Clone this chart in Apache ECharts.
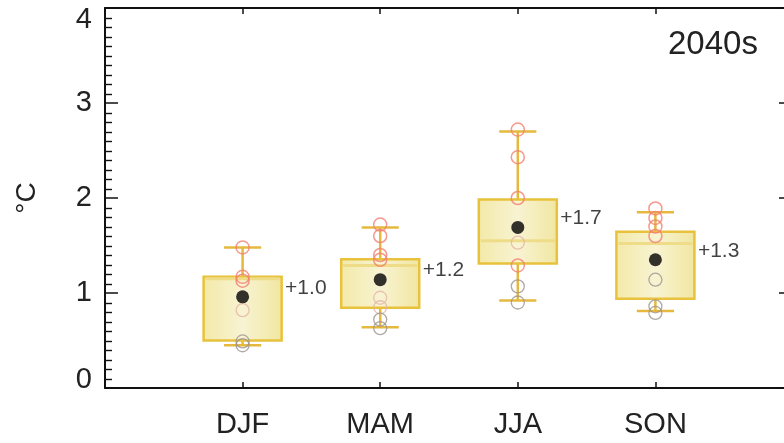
<!DOCTYPE html>
<html>
<head>
<meta charset="utf-8">
<script src="https://cdn.jsdelivr.net/npm/echarts@6/dist/echarts.min.js"></script>
<style>html,body{margin:0;padding:0;background:#fff;}#c{width:784px;height:443px;}</style>
</head>
<body>
<div id="c"></div>
<script>
const categories = ['DJF', 'MAM', 'JJA', 'SON'];
const whiskerLow = [0.45, 0.64, 0.92, 0.81];
const q1 = [0.50, 0.845, 1.31, 0.94];
const median = [1.15, 1.29, 1.55, 1.52];
const q3 = [1.17, 1.355, 1.985, 1.645];
const whiskerHigh = [1.48, 1.69, 2.70, 1.85];
const means = [0.96, 1.14, 1.69, 1.35];
const meanLabels = ['+1.0', '+1.2', '+1.7', '+1.3'];
const warmModels = [[1.48, 1.17, 1.13], [1.72, 1.60, 1.40, 1.35], [2.72, 2.43, 2.0, 1.29], [1.89, 1.79, 1.70, 1.60]];
const paleModels = [[0.82], [0.95, 0.85], [1.53], []];
const greyModels = [[0.49, 0.45], [0.72, 0.63], [1.07, 0.90], [1.14, 0.86, 0.79]];
const yTicks = [0, 1, 2, 3, 4];
const minorStep = 0.1;
const periodLabel = '2040s';

const FONT = 'Liberation Sans';
const boxData = categories.map((c, i) => [i + 1, whiskerLow[i], q1[i], median[i], q3[i], whiskerHigh[i]]);
function pts(groups) {
  const out = [];
  groups.forEach((g, i) => g.forEach(v => out.push([i + 1, v])));
  return out;
}
const meanData = means.map((m, i) => ({ value: [i + 1, m], label: { formatter: meanLabels[i] } }));
const minorTickValues = [];
for (let k = 1; k < Math.round((yTicks[yTicks.length - 1] - yTicks[0]) / minorStep); k++) {
  if (k % 10 !== 0) minorTickValues.push([1, +(yTicks[0] + k * minorStep).toFixed(2)]);
}

const chart = echarts.init(document.getElementById('c'));
chart.setOption({
  animation: false,
  backgroundColor: '#fff',
  grid: { left: 105, top: 8, width: 688, height: 380, containLabel: false, outerBoundsMode: 'none' },
  xAxis: [{
    type: 'value', position: 'bottom', min: 0, max: 5, interval: 1,
    axisLine: { onZero: false, lineStyle: { color: '#111', width: 2 } },
    axisTick: { inside: true, length: 6, lineStyle: { color: '#111', width: 1.5 } },
    splitLine: { show: false },
    axisLabel: {
      margin: 22, fontSize: 29, fontFamily: FONT, color: '#222',
      formatter: v => (v >= 1 && v <= categories.length && Number.isInteger(v)) ? categories[v - 1] : ''
    }
  }, {
    type: 'value', position: 'top', min: 0, max: 5, interval: 1,
    axisLine: { onZero: false, lineStyle: { color: '#111', width: 2 } },
    axisTick: { inside: true, length: 6, lineStyle: { color: '#111', width: 1.5 } },
    splitLine: { show: false },
    axisLabel: { show: false }
  }],
  yAxis: [{
    type: 'value', position: 'left', min: 0, max: 4, interval: 1,
    name: '°C', nameLocation: 'middle', nameRotate: 90, nameGap: 64,
    nameTextStyle: { fontSize: 28, fontFamily: FONT, color: '#222' },
    axisLine: { show: true, onZero: false, lineStyle: { color: '#111', width: 2 } },
    axisTick: { show: true, inside: true, length: 13, lineStyle: { color: '#111', width: 1.5 } },
    splitLine: { show: false },
    axisLabel: {
      margin: 13, fontSize: 29, fontFamily: FONT, color: '#222',
      formatter: v => v === yTicks[yTicks.length - 1] ? '{t|' + v + '}' : (v === yTicks[0] ? '{b|' + v + '}' : String(v)),
      rich: {
        t: { fontSize: 29, fontFamily: FONT, color: '#222', padding: [24, 0, 0, 0] },
        b: { fontSize: 29, fontFamily: FONT, color: '#222', padding: [0, 0, 16, 0] }
      }
    }
  }, {
    type: 'value', position: 'right', min: 0, max: 4, interval: 1,
    axisLine: { show: true, onZero: false, lineStyle: { color: '#111', width: 2 } },
    axisTick: { show: true, inside: true, length: 14, lineStyle: { color: '#111', width: 1.5 } },
    splitLine: { show: false },
    axisLabel: { show: false }
  }],
  series: [{
    type: 'custom',
    xAxisIndex: 0, yAxisIndex: 0,
    data: minorTickValues,
    z: 10, clip: false, silent: true,
    renderItem: function (params, api) {
      const v = api.value(1);
      const pl = api.coord([0, v]);
      const pr = api.coord([5, v]);
      const y = Math.round(pl[1]) + 0.5;
      return {
        type: 'group',
        children: [
          { type: 'line', shape: { x1: pl[0], y1: y, x2: pl[0] + 7, y2: y }, style: { stroke: '#111', lineWidth: 1.4 } },
          { type: 'line', shape: { x1: pr[0], y1: y, x2: pr[0] - 7, y2: y }, style: { stroke: '#111', lineWidth: 1.4 } }
        ]
      };
    }
  }, {
    type: 'custom',
    xAxisIndex: 0, yAxisIndex: 0,
    data: boxData,
    z: 2,
    renderItem: function (params, api) {
      const x = api.value(0);
      const unit = api.size([1, 0])[0];
      const bw = unit * 0.567, cw = unit * 0.27;
      const pLow = api.coord([x, api.value(1)]);
      const pQ1 = api.coord([x, api.value(2)]);
      const pMed = api.coord([x, api.value(3)]);
      const pQ3 = api.coord([x, api.value(4)]);
      const pHigh = api.coord([x, api.value(5)]);
      const cx = pQ1[0];
      const wStyle = { stroke: '#e6b83e', lineWidth: 2.5 };
      return {
        type: 'group',
        children: [
          { type: 'line', shape: { x1: cx, y1: pHigh[1], x2: cx, y2: pQ3[1] }, style: wStyle },
          { type: 'line', shape: { x1: cx, y1: pQ1[1], x2: cx, y2: pLow[1] }, style: wStyle },
          { type: 'line', shape: { x1: cx - cw / 2, y1: pHigh[1], x2: cx + cw / 2, y2: pHigh[1] }, style: wStyle },
          { type: 'line', shape: { x1: cx - cw / 2, y1: pLow[1], x2: cx + cw / 2, y2: pLow[1] }, style: wStyle },
          {
            type: 'rect',
            shape: { x: cx - bw / 2, y: pQ3[1], width: bw, height: pQ1[1] - pQ3[1] },
            style: {
              fill: new echarts.graphic.LinearGradient(0, 0, 1, 0, [
                { offset: 0, color: '#f3e9a8' }, { offset: 0.5, color: '#f8f3d2' }, { offset: 1, color: '#f1e6a0' }
              ]),
              stroke: '#e8c23c', lineWidth: 2.5
            }
          },
          { type: 'line', shape: { x1: cx - bw / 2 + 2, y1: pMed[1], x2: cx + bw / 2 - 2, y2: pMed[1] }, style: { stroke: '#eedc88', lineWidth: 3 } }
        ]
      };
    }
  }, {
    type: 'scatter', xAxisIndex: 0, yAxisIndex: 0, z: 3,
    symbol: 'circle', symbolSize: 13,
    itemStyle: { color: 'rgba(0,0,0,0)', borderColor: '#f28070', borderWidth: 1.5 },
    data: pts(warmModels)
  }, {
    type: 'scatter', xAxisIndex: 0, yAxisIndex: 0, z: 3,
    symbol: 'circle', symbolSize: 13,
    itemStyle: { color: 'rgba(0,0,0,0)', borderColor: '#e4b4a8', borderWidth: 1.3 },
    data: pts(paleModels)
  }, {
    type: 'scatter', xAxisIndex: 0, yAxisIndex: 0, z: 3,
    symbol: 'circle', symbolSize: 13,
    itemStyle: { color: 'rgba(0,0,0,0)', borderColor: '#9a9490', borderWidth: 1.3 },
    data: pts(greyModels)
  }, {
    type: 'scatter', xAxisIndex: 0, yAxisIndex: 0, z: 4,
    symbol: 'circle', symbolSize: 13,
    itemStyle: { color: '#000' },
    label: {
      show: true, position: 'right', distance: 36, offset: [0, -9],
      fontSize: 21, fontFamily: FONT, color: '#111'
    },
    data: meanData
  }],
  graphic: [{
    type: 'text', left: 668, top: 28,
    style: { text: periodLabel, fontSize: 33, fontFamily: FONT, fill: '#222' }
  }]
});
</script>
</body>
</html>
